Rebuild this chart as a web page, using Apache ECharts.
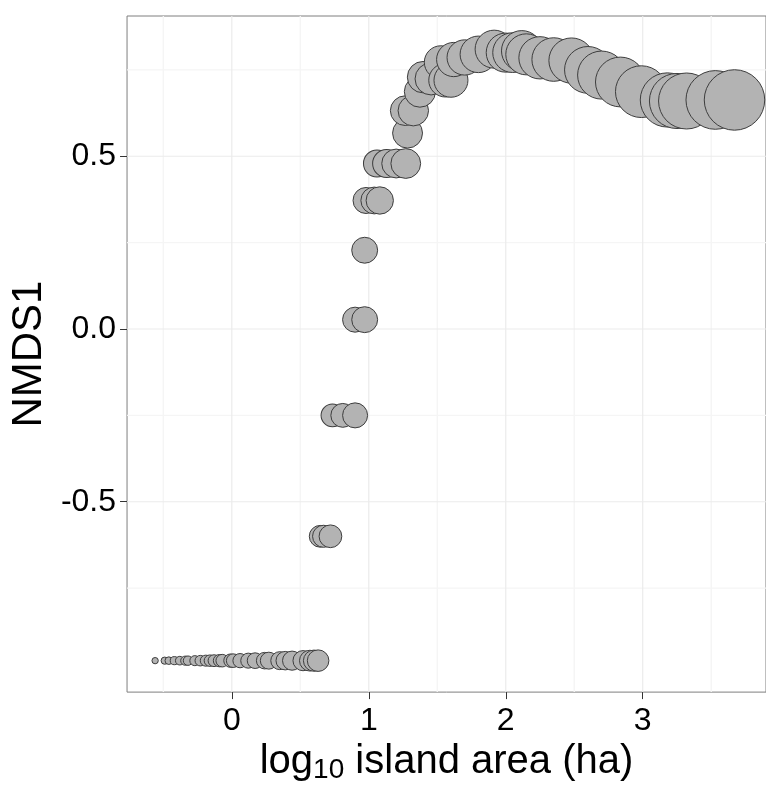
<!DOCTYPE html>
<html>
<head>
<meta charset="utf-8">
<script src="https://cdn.jsdelivr.net/npm/echarts@6/dist/echarts.min.js"></script>
<style>
  html, body { margin: 0; padding: 0; background: #ffffff; }
  #chart { width: 766px; height: 789px; }
</style>
</head>
<body>
<div id="chart"></div>
<script>
// NMDS1 score against log10 island area; bubble size grows with island area.
const logArea = [
  -0.56, -0.49, -0.46, -0.42, -0.38, -0.34, -0.32, -0.27, -0.23, -0.19,
  -0.16, -0.13, -0.09, -0.07, -0.01, 0.01, 0.06, 0.12, 0.17, 0.24,
  0.27, 0.35, 0.39, 0.44, 0.52, 0.57, 0.60, 0.63,
  0.645, 0.67, 0.72,
  0.735, 0.81, 0.90,
  0.90, 0.97,
  0.97,
  0.98, 1.04, 1.08,
  1.06, 1.13, 1.20, 1.27,
  1.283,
  1.266, 1.325,
  1.373,
  1.396, 1.455,
  1.526,
  1.56, 1.60,
  1.62, 1.70, 1.80, 1.915, 2.00, 2.05, 2.117,
  2.15, 2.25, 2.35, 2.48, 2.60, 2.70, 2.837, 2.99,
  3.18, 3.25, 3.32, 3.53, 3.67
];
const nmds1 = [
  -0.96, -0.96, -0.96, -0.96, -0.96, -0.96, -0.96, -0.96, -0.96, -0.96,
  -0.96, -0.96, -0.96, -0.96, -0.96, -0.96, -0.96, -0.96, -0.96, -0.96,
  -0.96, -0.96, -0.96, -0.96, -0.96, -0.96, -0.96, -0.96,
  -0.60, -0.60, -0.60,
  -0.25, -0.25, -0.25,
  0.027, 0.027,
  0.228,
  0.372, 0.372, 0.372,
  0.479, 0.479, 0.479, 0.479,
  0.567,
  0.632, 0.632,
  0.687,
  0.729, 0.724,
  0.772,
  0.72, 0.72,
  0.78, 0.786, 0.795, 0.81, 0.80, 0.80, 0.805,
  0.795, 0.785, 0.78, 0.777, 0.75, 0.735, 0.715, 0.687,
  0.663, 0.66, 0.66, 0.663, 0.663
];

// Axis breaks
const xBreaks = [0, 1, 2, 3];
const xMinorBreaks = [-0.5, 0.5, 1.5, 2.5, 3.5];
const yBreaks = [-0.5, 0, 0.5];
const yMinorBreaks = [-0.75, -0.25, 0.25, 0.75];

// Panel limits (data range plus padding)
const X_MIN = -0.765, X_MAX = 3.9;
const Y_MIN = -1.051, Y_MAX = 0.906;

// Size scale: bubble diameter rises linearly with log10 area
const SIZE_AT_ZERO = 13.5, SIZE_PER_UNIT = 12.8, SIZE_FLOOR = 4;
function bubbleSize(v) {
  return Math.max(SIZE_FLOOR, SIZE_AT_ZERO + SIZE_PER_UNIT * v[0]);
}

const FONT = "'Liberation Sans', Arial, sans-serif";

function gridSeries(values, dir, color, width) {
  return values.map(function (v) {
    return {
      type: 'line',
      data: dir === 'x' ? [[v, Y_MIN], [v, Y_MAX]] : [[X_MIN, v], [X_MAX, v]],
      symbol: 'none',
      showSymbol: false,
      silent: true,
      animation: false,
      z: 1,
      lineStyle: { color: color, width: width }
    };
  });
}

const points = logArea.map(function (x, i) { return [x, nmds1[i]]; });

const series = []
  .concat(gridSeries(xMinorBreaks, 'x', '#f5f5f5', 1.4))
  .concat(gridSeries(yMinorBreaks, 'y', '#f5f5f5', 1.4))
  .concat(gridSeries(xBreaks, 'x', '#ebebeb', 1.2))
  .concat(gridSeries(yBreaks, 'y', '#ebebeb', 1.2))
  .concat([{
    type: 'scatter',
    data: points,
    symbol: 'circle',
    symbolSize: bubbleSize,
    z: 3,
    animation: false,
    itemStyle: {
      color: '#b3b3b3',
      borderColor: '#3d3d3d',
      borderWidth: 1,
      opacity: 1
    }
  }]);

const chart = echarts.init(document.getElementById('chart'), null, { renderer: 'canvas' });
chart.setOption({
  backgroundColor: '#ffffff',
  animation: false,
  grid: {
    left: 120, top: 16, width: 658, height: 686,
    show: true,
    backgroundColor: '#ffffff',
    borderColor: '#7f7f7f',
    borderWidth: 1
  },
  xAxis: {
    type: 'value',
    min: X_MIN, max: X_MAX,
    splitLine: { show: false },
    axisLine: { show: false, onZero: false },
    axisTick: {
      show: true, customValues: xBreaks, length: 7,
      lineStyle: { color: '#333333', width: 1 }
    },
    axisLabel: {
      customValues: xBreaks, margin: 13,
      fontFamily: FONT, fontSize: 32, color: '#000000',
      formatter: function (v) { return String(v); }
    },
    name: '{m|log}{s|10}{m| island area (ha)}',
    nameLocation: 'middle',
    nameGap: 43,
    nameTextStyle: {
      rich: {
        m: { fontFamily: FONT, fontSize: 40, color: '#000000', lineHeight: 44 },
        s: { fontFamily: FONT, fontSize: 28, color: '#000000', lineHeight: 28, verticalAlign: 'bottom' }
      }
    }
  },
  yAxis: {
    type: 'value',
    min: Y_MIN, max: Y_MAX,
    splitLine: { show: false },
    axisLine: { show: false, onZero: false },
    axisTick: {
      show: true, customValues: yBreaks, length: 7,
      lineStyle: { color: '#333333', width: 1 }
    },
    axisLabel: {
      customValues: yBreaks, margin: 11,
      fontFamily: FONT, fontSize: 32, color: '#000000',
      formatter: function (v) { return v.toFixed(1); }
    },
    name: 'NMDS1',
    nameLocation: 'middle',
    nameRotate: 90,
    nameGap: 72,
    nameTextStyle: { fontFamily: FONT, fontSize: 42, color: '#000000' }
  },
  series: series
});
</script>
</body>
</html>
